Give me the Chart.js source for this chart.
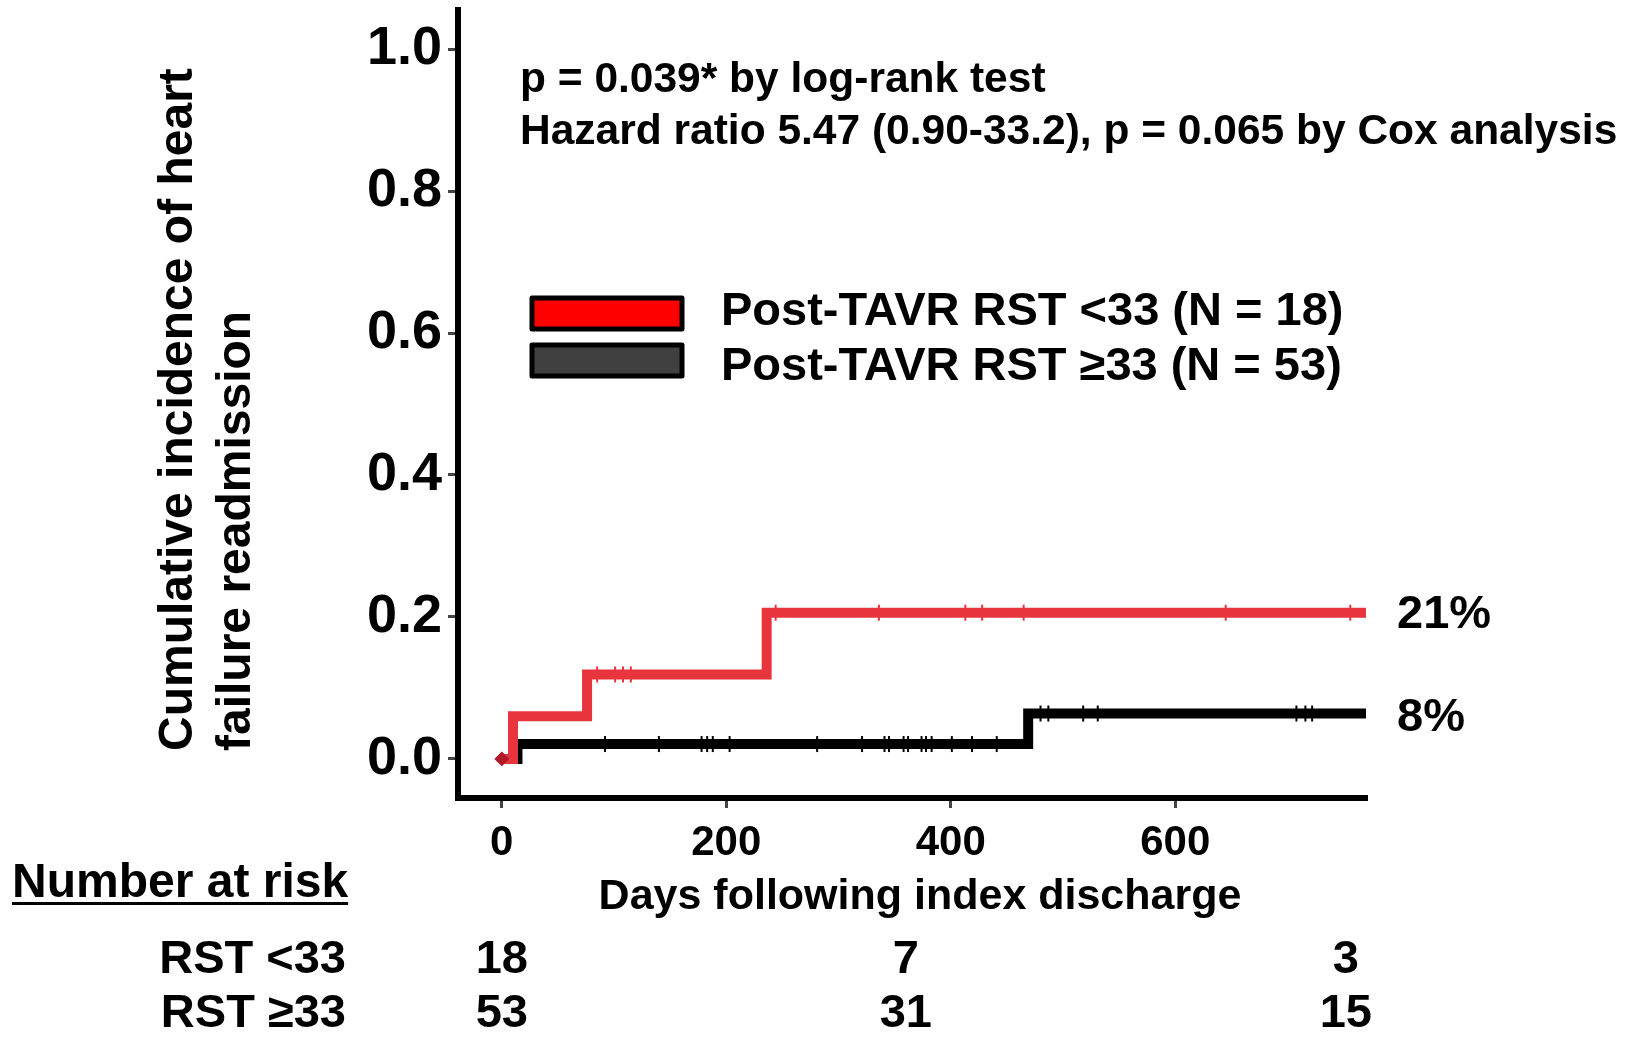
<!DOCTYPE html>
<html><head><meta charset="utf-8">
<script src="https://cdn.jsdelivr.net/npm/chart.js@4.4.1/dist/chart.umd.min.js"></script>
<style>html,body{margin:0;padding:0;background:#fff;overflow:hidden}canvas{display:block}</style>
</head><body>
<canvas id="c" width="1631" height="1037"></canvas>
<script>
const FONT = '"Liberation Sans", Arial, Helvetica, sans-serif';

// axis ticks
const xTicks = [0, 200, 400, 600];
const yTicks = [0, 0.2, 0.4, 0.6, 0.8, 1.0];

// Kaplan-Meier style cumulative incidence (event times and levels)
const redTimes  = [0, 10, 76, 236, 770];
const redLevels = [0, 0.060, 0.119, 0.206, 0.206];
const blackTimes  = [0, 14, 469, 770];
const blackLevels = [0, 0.021, 0.064, 0.064];

// censoring times
const redCensor = [85, 101, 108, 115, 244, 336, 413, 428, 465, 645, 756];
const blackCensor = [92, 140, 178, 183, 188, 203, 281, 321, 341, 345, 358, 362, 374, 378, 383, 401, 419, 441, 480, 487, 518, 531, 708, 716, 722];

// labels
const seriesLabels = ['Post-TAVR RST <33 (N = 18)', 'Post-TAVR RST \u226533 (N = 53)'];
const endLabels = ['21%', '8%'];
const riskGroups = ['RST <33', 'RST \u226533'];
const riskTimes = [0, 360, 752];
const riskRed = [18, 7, 3];
const riskBlack = [53, 31, 15];
const statsLines = ['p = 0.039* by log-rank test', 'Hazard ratio 5.47 (0.90-33.2), p = 0.065 by Cox analysis'];
const yTitle = ['Cumulative incidence of heart', 'failure readmission'];
const xTitle = 'Days following index discharge';

const RED = '#E8343C';
const BLACK = '#000000';

function levelAt(times, levels, t) {
  let v = levels[0];
  for (let i = 0; i < times.length; i++) if (times[i] <= t) v = levels[i];
  return v;
}
const pts = (ts, ls) => ts.map((t, i) => ({x: t, y: ls[i]}));
const cens = (cs, ts, ls) => cs.map(t => ({x: t, y: levelAt(ts, ls, t)}));

const textPlugin = {
  id: 'texts',
  afterDraw(chart) {
    const ctx = chart.ctx;
    const xs = chart.scales.x;
    ctx.save();
    ctx.fillStyle = '#000';
    ctx.textBaseline = 'middle';
    // y title
    ctx.font = 'bold 48px ' + FONT;
    ctx.textAlign = 'left';
    [[179, yTitle[0]], [237, yTitle[1]]].forEach(([x, t]) => {
      ctx.save(); ctx.translate(x, 751); ctx.rotate(-Math.PI / 2); ctx.fillText(t, 0, 0); ctx.restore();
    });
    // stats
    ctx.font = 'bold 42.5px ' + FONT;
    ctx.fillText(statsLines[0], 520, 80);
    ctx.fillText(statsLines[1], 520, 132);
    // legend
    const boxes = [[296, '#FF0000', 312], [343, '#404040', 367]];
    boxes.forEach(([y, c, ty], i) => {
      ctx.fillStyle = c; ctx.strokeStyle = '#000'; ctx.lineWidth = 5; ctx.lineJoin = 'round';
      ctx.beginPath(); ctx.rect(532, y + 2, 150, 31); ctx.fill(); ctx.stroke();
      ctx.fillStyle = '#000';
      ctx.font = 'bold 47px ' + FONT;
      ctx.fillText(seriesLabels[i], 721, ty);
    });
    // end labels
    ctx.font = 'bold 47px ' + FONT;
    ctx.fillText(endLabels[0], 1397, 615);
    ctx.fillText(endLabels[1], 1397, 718);
    // x title
    ctx.font = 'bold 43px ' + FONT;
    ctx.textAlign = 'center';
    ctx.fillText(xTitle, 920, 897);
    // risk table
    ctx.font = 'bold 48px ' + FONT;
    ctx.textAlign = 'left';
    ctx.fillText('Number at risk', 12, 884);
    const w = ctx.measureText('Number at risk').width;
    ctx.fillRect(12, 902, w, 3);
    ctx.font = 'bold 47px ' + FONT;
    ctx.textAlign = 'right';
    ctx.fillText(riskGroups[0], 346, 960);
    ctx.fillText(riskGroups[1], 346, 1014);
    ctx.textAlign = 'center';
    riskTimes.forEach((t, i) => {
      const px = xs.getPixelForValue(t);
      ctx.fillText(String(riskRed[i]), px, 960);
      ctx.fillText(String(riskBlack[i]), px, 1014);
    });
    ctx.restore();
  }
};

new Chart(document.getElementById('c'), {
  type: 'line',
  data: {
    datasets: [
      {label: seriesLabels[0], data: pts(redTimes, redLevels), borderColor: RED, backgroundColor: '#B01A28',
       borderWidth: 10, stepped: 'before', fill: false, clip: false,
       pointRadius: redTimes.map((t, i) => i === 0 ? 6 : 0), pointStyle: 'rectRot', pointBorderColor: '#B01A28', pointBorderWidth: 2},
      {label: seriesLabels[1], data: pts(blackTimes, blackLevels), borderColor: BLACK,
       borderWidth: 10, stepped: 'before', fill: false, clip: false, pointRadius: 0},
      {type: 'scatter', data: cens(redCensor, redTimes, redLevels), pointStyle: 'line', rotation: 90,
       pointRadius: 8, borderColor: RED, pointBorderWidth: 2, borderWidth: 2, showLine: false, clip: false},
      {type: 'scatter', data: cens(blackCensor, blackTimes, blackLevels), pointStyle: 'line', rotation: 90,
       pointRadius: 8, borderColor: BLACK, pointBorderWidth: 2, borderWidth: 2, showLine: false, clip: false}
    ]
  },
  options: {
    responsive: false,
    animation: false,
    events: [],
    layout: {padding: {left: 0, top: 10, right: 265, bottom: 0}},
    plugins: {legend: {display: false}, tooltip: {enabled: false}, title: {display: false}},
    scales: {
      x: {
        type: 'linear', min: -39, max: 770,
        afterBuildTicks: s => { s.ticks = xTicks.map(v => ({value: v})); },
        afterFit: s => { s.height = 1037 - 798; s.paddingLeft = 0; s.paddingRight = 0; },
        border: {display: true, color: '#000', width: 6},
        grid: {display: true, drawOnChartArea: false, drawTicks: true, tickLength: 10, color: '#444', lineWidth: 3},
        ticks: {color: '#000', font: {family: FONT, weight: 'bold', size: 42}, padding: 10, maxRotation: 0,
                callback: v => String(v)}
      },
      y: {
        type: 'linear', min: -0.055, max: 1.055,
        afterBuildTicks: s => { s.ticks = yTicks.map(v => ({value: v})); },
        afterFit: s => { s.width = 458; s.paddingTop = 0; s.paddingBottom = 0; },
        border: {display: true, color: '#000', width: 6},
        grid: {display: true, drawOnChartArea: false, drawTicks: true, tickLength: 10, color: '#444', lineWidth: 3},
        ticks: {color: '#000', font: {family: FONT, weight: 'bold', size: 54}, padding: 6,
                callback: v => Number(v).toFixed(1)}
      }
    }
  },
  plugins: [textPlugin]
});
</script>
</body></html>
